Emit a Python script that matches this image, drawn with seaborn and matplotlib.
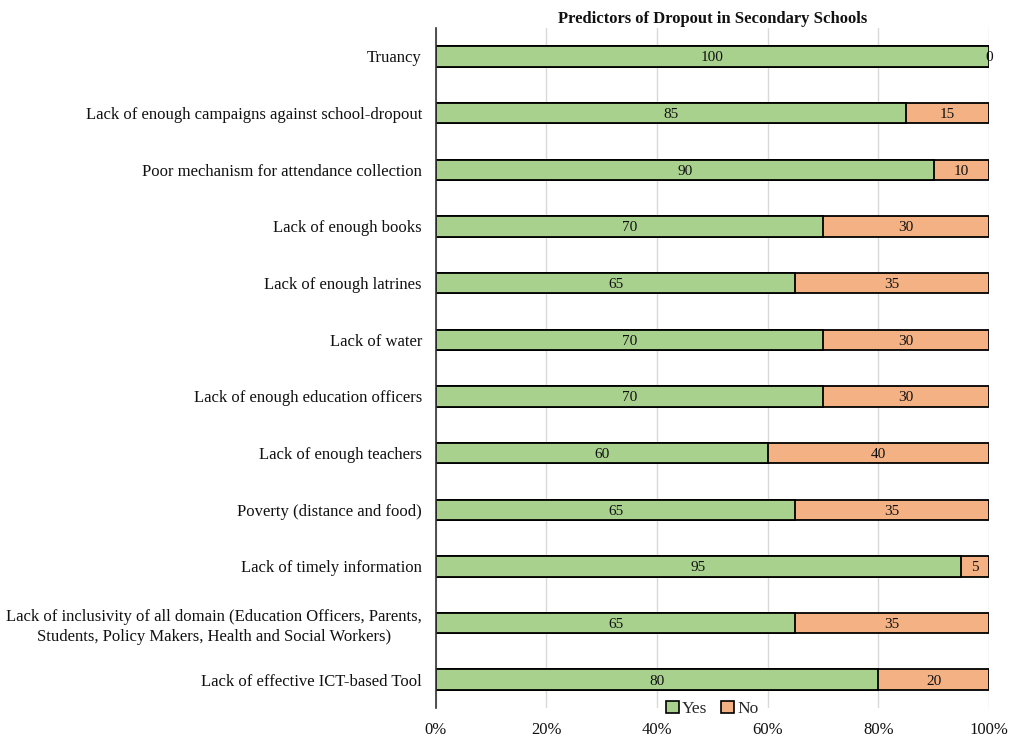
import pandas as pd
import matplotlib.pyplot as plt
import seaborn as sns

categories = [
    "Truancy",
    "Lack of enough campaigns against school-dropout",
    "Poor mechanism for attendance collection",
    "Lack of enough books",
    "Lack of enough latrines",
    "Lack of water",
    "Lack of enough education officers",
    "Lack of enough teachers",
    "Poverty (distance and food)",
    "Lack of timely information",
    "Lack of inclusivity of all domain (Education Officers, Parents,\nStudents, Policy Makers, Health and Social Workers)",
    "Lack of effective ICT-based Tool",
]
yes_vals = [100, 85, 90, 70, 65, 70, 70, 60, 65, 95, 65, 80]
no_vals = [0, 15, 10, 30, 35, 30, 30, 40, 35, 5, 35, 20]

GREEN = "#A9D18E"
ORANGE = "#F4B183"

df = pd.DataFrame({"cat": categories, "Yes": yes_vals, "No": no_vals})
df["total"] = df["Yes"] + df["No"]

sns.set_style("white")
plt.rcParams["font.family"] = ["Liberation Serif", "DejaVu Serif"]

fig = plt.figure(figsize=(10.09, 7.41), dpi=100)
ax = fig.add_axes([0.432, 0.0445, 0.548, 0.9175])

# stacked: full bar in orange underneath, yes part in green on top
sns.barplot(data=df, y="cat", x="total", color=ORANGE, orient="h", saturation=1,
            width=0.36, edgecolor="black", linewidth=1.3, ax=ax, zorder=2)
sns.barplot(data=df, y="cat", x="Yes", color=GREEN, orient="h", saturation=1,
            width=0.36, edgecolor="black", linewidth=1.3, ax=ax, zorder=3)

# value labels in the middle of each segment
for i, (y, n) in enumerate(zip(yes_vals, no_vals)):
    ax.text(y / 2, i, str(y), ha="center", va="center_baseline",
            fontsize=11, color="#111111", zorder=5)
    ax.text(y + n / 2, i, str(n), ha="center", va="center_baseline",
            fontsize=11, color="#111111", zorder=5)

ax.set_xlim(0, 100)
ax.set_ylim(len(categories) - 0.5, -0.5)
ax.set_xticks(range(0, 101, 20))
ax.set_xticklabels([f"{t}%" for t in range(0, 101, 20)], fontsize=12)
ax.tick_params(axis="x", length=0, pad=10, colors="#111111")
ax.tick_params(axis="y", length=0, pad=10, labelsize=12, colors="#111111")
for lbl in ax.get_yticklabels():
    lbl.set_multialignment("center")
    lbl.set_linespacing(1.35)
ax.set_xlabel("")
ax.set_ylabel("")
ax.grid(axis="x", color="#d9d9d9", linewidth=1, zorder=0)
ax.set_axisbelow(True)
for s in ["top", "right", "bottom"]:
    ax.spines[s].set_visible(False)
ax.spines["left"].set_color("#333333")
ax.spines["left"].set_linewidth(1.2)
ax.spines["left"].set_zorder(4)
ax.set_yticks([i + 0.5 for i in range(-1, len(categories))], minor=True)
ax.tick_params(axis="y", which="minor", length=4, width=1, color="#333333", direction="out")

ax.set_title("Predictors of Dropout in Secondary Schools", fontsize=12,
             fontweight="bold", pad=4, color="#111111")

handles = [plt.Rectangle((0, 0), 1, 1, facecolor=GREEN, edgecolor="black", linewidth=1.2),
           plt.Rectangle((0, 0), 1, 1, facecolor=ORANGE, edgecolor="black", linewidth=1.2)]
fig.legend(handles, ["Yes", "No"], loc="center", bbox_to_anchor=(0.706, 0.043),
           ncol=2, frameon=False, fontsize=12.5, handlelength=0.7, handleheight=0.7,
           handletextpad=0.2, columnspacing=0.8)

fig.savefig("out.png", dpi=100, facecolor="white")
